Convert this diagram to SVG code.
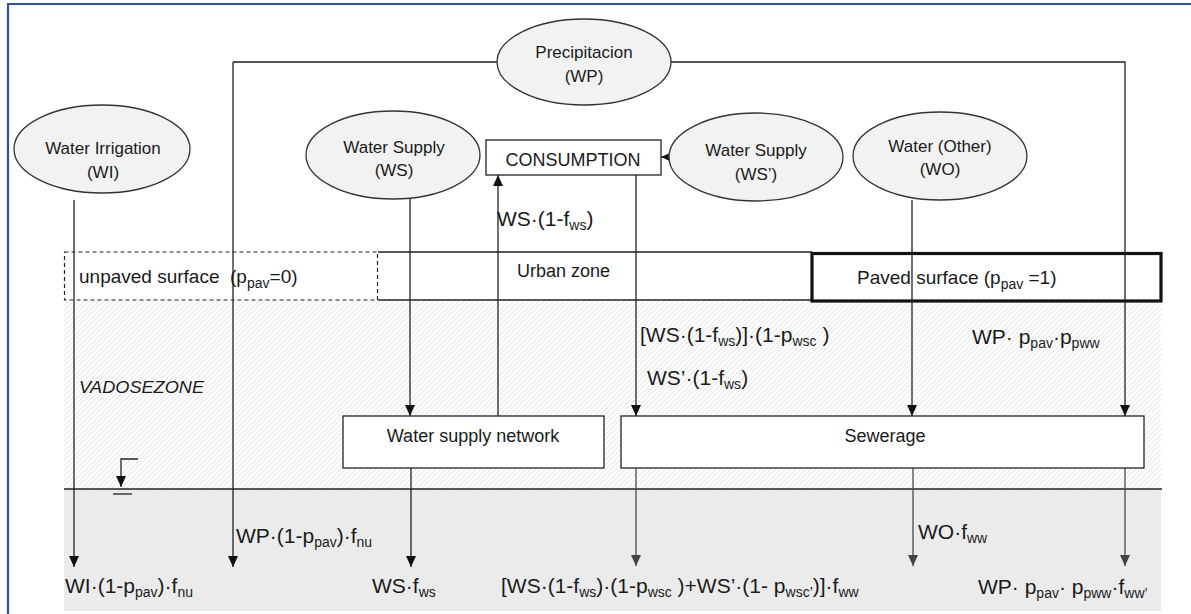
<svg xmlns="http://www.w3.org/2000/svg" width="1191" height="614" viewBox="0 0 1191 614">
<style>
text{font-family:"Liberation Sans",Arial,sans-serif;fill:#1a1a1a}
.n{font-size:17px;text-anchor:middle}
.b{font-size:18px;text-anchor:middle}
.f{font-size:21px}
.s{font-size:14px}
.ell{fill:#f2f2f2;stroke:#333;stroke-width:1.3}
.box{fill:#fff;stroke:#222;stroke-width:1.3}
.c{fill:none;stroke:#222;stroke-width:1.3}
.cg{fill:none;stroke:#4a4a4a;stroke-width:1.3}
</style>
<defs>
<pattern id="hatch" patternUnits="userSpaceOnUse" width="5" height="5">
<path d="M-1,6 L6,-1" stroke="#dcdcdc" stroke-width="0.8"/>
</pattern>
<marker id="ah" markerUnits="userSpaceOnUse" markerWidth="12" markerHeight="12" refX="11" refY="6" orient="auto">
<path d="M0,1 L11,6 L0,11 z" fill="#111"/>
</marker>
<marker id="ahg" markerUnits="userSpaceOnUse" markerWidth="12" markerHeight="12" refX="11" refY="6" orient="auto">
<path d="M0,1 L11,6 L0,11 z" fill="#444"/>
</marker>
</defs>
<rect width="1191" height="614" fill="#fff"/>
<path d="M8,614 L8,4 L1191,4" fill="none" stroke="#2f5597" stroke-width="2.2"/>
<g id="zones">
<rect x="64" y="300" width="1097" height="189" fill="url(#hatch)"/>
<rect x="64" y="489" width="1097" height="122" fill="#ebebeb"/>
<line x1="64" y1="489" x2="1162" y2="489" stroke="#222" stroke-width="1.3"/>
<line x1="378" y1="252" x2="812" y2="252" stroke="#222" stroke-width="1.3"/>
<line x1="378" y1="300" x2="812" y2="300" stroke="#222" stroke-width="1.3"/>
<rect id="unpaved" x="64.5" y="252" width="313" height="48" fill="#fff" stroke="#222" stroke-width="1.2" stroke-dasharray="4,3"/>
<rect id="paved" x="812" y="253.5" width="349" height="47.5" fill="#fff" stroke="#111" stroke-width="3.2"/>
<text x="79" y="393" font-size="16" font-style="italic" textLength="125" lengthAdjust="spacingAndGlyphs">VADOSEZONE</text>
<path d="M138,459 L121,459 L121,487" class="c" marker-end="url(#ah)"/>
<line x1="113" y1="494" x2="132" y2="494" stroke="#222" stroke-width="1.3"/>
</g>
<g id="connectors">
<path d="M233,62 L1125,62 L1125,416" class="c" marker-end="url(#ah)"/>
<path d="M233,62 L233,567" class="c" marker-end="url(#ah)"/>
<path d="M74,200 L74,567" class="c" marker-end="url(#ah)"/>
<path d="M410,199 L410,416" class="c" marker-end="url(#ah)"/>
<path d="M498,416 L498,175" class="c" marker-end="url(#ah)"/>
<path d="M669,157 L661,157" class="c" marker-end="url(#ah)"/>
<path d="M636,175 L636,416" class="c" marker-end="url(#ah)"/>
<path d="M912,200 L912,416" class="c" marker-end="url(#ah)"/>
<path d="M411,468 L411,567" class="c" marker-end="url(#ah)"/>
<path d="M636,468 L636,566" class="cg" marker-end="url(#ahg)"/>
<path d="M913,468 L913,566" class="cg" marker-end="url(#ahg)"/>
<path d="M1125,468 L1125,566" class="cg" marker-end="url(#ahg)"/>
</g>
<g id="precip"><ellipse class="ell" cx="584" cy="62" rx="87" ry="43"/><text class="n" x="584" y="58">Precipitacion</text><text class="n" x="584" y="82">(WP)</text></g>
<g id="wi"><ellipse class="ell" cx="102" cy="149" rx="88" ry="44"/><text class="n" x="103" y="154">Water Irrigation</text><text class="n" x="103" y="178">(WI)</text></g>
<g id="ws"><ellipse class="ell" cx="393" cy="155" rx="87" ry="44"/><text class="n" x="394" y="153">Water Supply</text><text class="n" x="394" y="176">(WS)</text></g>
<g id="wsp"><ellipse class="ell" cx="756" cy="157" rx="87" ry="44"/><text class="n" x="756" y="156">Water Supply</text><text class="n" x="756" y="180">(WS’)</text></g>
<g id="wo"><ellipse class="ell" cx="940" cy="156" rx="87" ry="44"/><text class="n" x="940" y="152">Water (Other)</text><text class="n" x="940" y="175">(WO)</text></g>
<g id="consumption"><rect class="box" x="486" y="140" width="175" height="35"/><text class="b" x="573" y="166">CONSUMPTION</text></g>
<g id="network"><rect class="box" x="343" y="416" width="261" height="52"/><text class="b" x="473" y="442">Water supply network</text></g>
<g id="sewerage"><rect class="box" x="621" y="416" width="523" height="52"/><text class="b" x="885" y="442">Sewerage</text></g>
<g id="labels">
<text x="79" y="283" font-size="19" xml:space="preserve">unpaved surface  (p<tspan class="s" dy="5">pav</tspan><tspan dy="-5">=0)</tspan></text>
<text x="857" y="284" font-size="19" xml:space="preserve">Paved surface (p<tspan class="s" dy="5">pav</tspan><tspan dy="-5"> =1)</tspan></text>
<text x="517" y="277" font-size="18">Urban zone</text>
<text class="f" x="497" y="226">WS·(1-f<tspan class="s" dy="4">ws</tspan><tspan dy="-4">)</tspan></text>
<text class="f" x="640" y="342" xml:space="preserve">[WS·(1-f<tspan class="s" dy="4">ws</tspan><tspan dy="-4">)]·(1-p</tspan><tspan class="s" dy="4">wsc</tspan><tspan dy="-4"> )</tspan></text>
<text class="f" x="647" y="385">WS’·(1-f<tspan class="s" dy="4">ws</tspan><tspan dy="-4">)</tspan></text>
<text class="f" x="972" y="344" xml:space="preserve">WP· p<tspan class="s" dy="4">pav</tspan><tspan dy="-4">·p</tspan><tspan class="s" dy="4">pww</tspan></text>
<text class="f" x="236" y="543">WP·(1-p<tspan class="s" dy="4">pav</tspan><tspan dy="-4">)·f</tspan><tspan class="s" dy="4">nu</tspan></text>
<text class="f" x="65" y="593">WI·(1-p<tspan class="s" dy="4">pav</tspan><tspan dy="-4">)·f</tspan><tspan class="s" dy="4">nu</tspan></text>
<text class="f" x="372" y="593">WS·f<tspan class="s" dy="4">ws</tspan></text>
<text class="f" x="501" y="593" xml:space="preserve">[WS·(1-f<tspan class="s" dy="4">ws</tspan><tspan dy="-4">)·(1-p</tspan><tspan class="s" dy="4">wsc</tspan><tspan dy="-4"> )+WS’·(1- p</tspan><tspan class="s" dy="4">wsc’</tspan><tspan dy="-4">)]·f</tspan><tspan class="s" dy="4">ww</tspan></text>
<text class="f" x="918" y="539">WO·f<tspan class="s" dy="4">ww</tspan></text>
<text class="f" x="978" y="594" xml:space="preserve">WP· p<tspan class="s" dy="4">pav</tspan><tspan dy="-4">· p</tspan><tspan class="s" dy="4">pww</tspan><tspan dy="-4">·f</tspan><tspan class="s" dy="4">ww’</tspan></text>
</g>
</svg>
